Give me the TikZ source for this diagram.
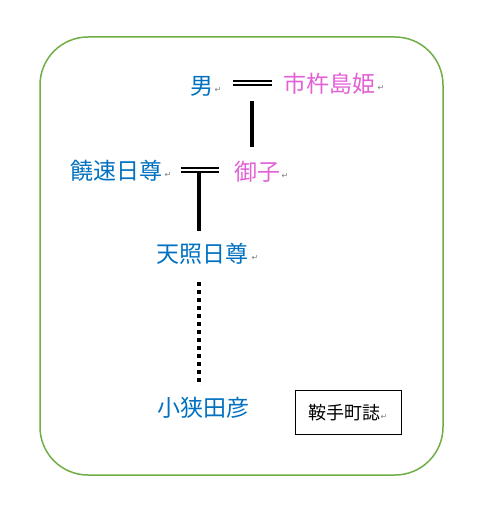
\documentclass[tikz,border=0pt]{standalone}
\usepackage{fontspec}
\newfontfamily\jp{Noto Sans CJK JP}
\newfontfamily\dv{DejaVu Sans}
\definecolor{wblue}{RGB}{0,112,192}
\definecolor{wpink}{RGB}{226,98,214}
\definecolor{wgreen}{RGB}{112,173,71}
\begin{document}
\begin{tikzpicture}[x=1pt,y=-1pt,
  lbl/.style={inner sep=0pt,font=\jp\fontsize{23}{23}\selectfont},
  pm/.style={inner sep=0pt,text=gray,font=\dv\fontsize{8}{8}\selectfont},
  dbl/.style={double distance=2.4pt,line width=1.9pt},
  link/.style={line width=4pt}]
\useasboundingbox (0,0) rectangle (482,516);
\draw[wgreen,line width=1.5pt,rounded corners=48pt] (40,37) rectangle (443,475);
\node[lbl,text=wblue] (m) at (202,86) {男};
\node[pm] at (218,90) {↵};
\node[lbl,text=wpink] (h) at (329,84) {市杵島姫};
\node[pm] at (381,88) {↵};
\coordinate (d1a) at (233,83);
\coordinate (d1b) at (272,83);
\draw[dbl] (d1a) -- (d1b);
\coordinate (v1a) at (252,101);
\coordinate (v1b) at (252,147);
\draw[link] (v1a) -- (v1b);
\node[lbl,text=wblue] (n) at (116,171) {饒速日尊};
\node[pm] at (168,175) {↵};
\node[lbl,text=wpink] (k) at (257,172) {御子};
\node[pm] at (285,176) {↵};
\coordinate (d2a) at (181,170.2);
\coordinate (d2b) at (219,170.2);
\draw[dbl] (d2a) -- (d2b);
\coordinate (v2a) at (199,171);
\draw[link] (v2a) -- (199,231) coordinate (v2b);
\node[lbl,text=wblue] (t) at (202,254) {天照日尊};
\node[pm] at (255,258) {↵};
\coordinate (v3a) at (199,282);
\coordinate (v3b) at (199,382);
\draw[line width=4pt,dash pattern=on 4pt off 4pt] (v3a) -- (v3b);
\node[lbl,text=wblue] (s) at (203,408) {小狭田彦};
\node[draw,line width=0.8pt,minimum width=106pt,minimum height=44pt] (b) at (348,412) {};
\node[inner sep=0pt,font=\jp\fontsize{18}{18}\selectfont] at (344,413) {鞍手町誌};
\node[pm] at (384,417) {↵};
\end{tikzpicture}
\end{document}
